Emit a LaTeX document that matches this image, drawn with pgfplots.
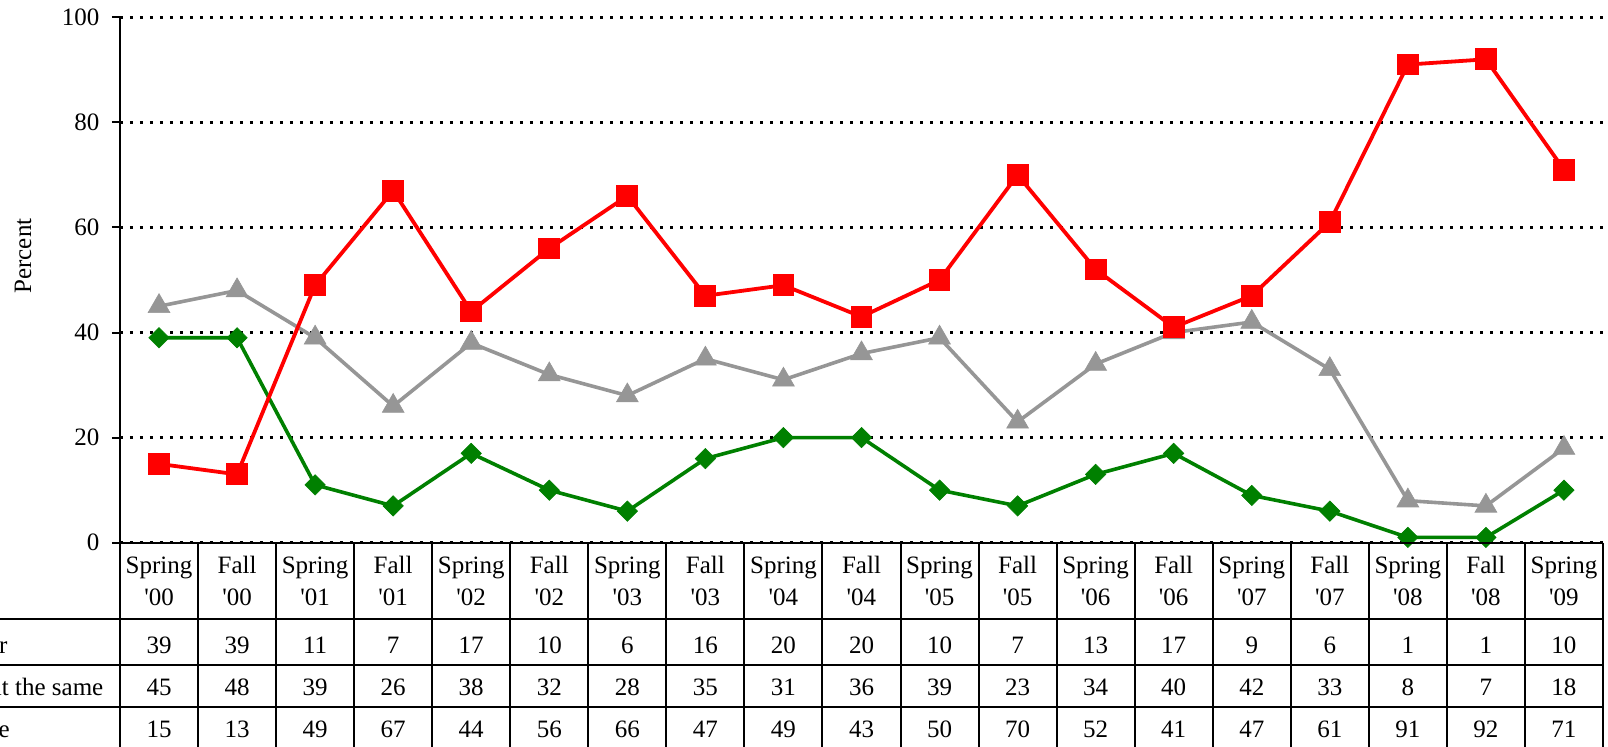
\documentclass[border=0pt]{standalone}
\usepackage{pgfplots}
\pgfplotsset{compat=1.18}
\usepackage{pgfplotstable}
\usepackage{fontspec}
\setmainfont{Liberation Serif}
\definecolor{cred}{RGB}{255,0,0}
\definecolor{cgray}{RGB}{150,150,150}
\definecolor{cgreen}{RGB}{0,128,0}
\pgfplotstableread{
x better same worse
0 39 45 15
1 39 48 13
2 11 39 49
3 7 26 67
4 17 38 44
5 10 32 56
6 6 28 66
7 16 35 47
8 20 31 49
9 20 36 43
10 10 39 50
11 7 23 70
12 13 34 52
13 17 40 41
14 9 42 47
15 6 33 61
16 1 8 91
17 1 7 92
18 10 18 71
}\data
\begin{document}
\fontsize{12.5}{16}\selectfont
\begin{tikzpicture}
\begin{axis}[
  at={(0,0)}, anchor=south west,
  scale only axis, width=741.5pt, height=262.7pt,
  xmin=-0.5, xmax=18.5, ymin=0, ymax=100,
  axis y line*=left, axis x line*=bottom,
  axis line style={black, line width=1pt},
  xtick=\empty,
  ytick={0,20,40,60,80,100},
  tick align=outside, major tick length=4pt,
  tick style={black, line width=1pt},
  ymajorgrids,
  grid style={black, line width=1.4pt, dash pattern=on 1.6pt off 3.4pt},
  /pgf/number format/assume math mode=true,
  ticklabel style={font=\fontsize{12.5}{15}\selectfont},
  yticklabel style={xshift=-2pt},
  clip=false,
  every node near coord/.style={anchor=center, font=\fontsize{12.5}{15}\selectfont, text=black},
]
\addplot[cgray, line width=1.8pt, mark=triangle*, mark size=6.3pt, mark options={solid, fill=cgray, draw=cgray, line width=0.3pt}] table[x=x, y=same] {\data};
\addplot[cgreen, line width=1.8pt, mark=square*, mark size=3.6pt, mark options={solid, fill=cgreen, draw=cgreen, rotate=45, line width=0.3pt}] table[x=x, y=better] {\data};
\addplot[cred, line width=1.9pt, mark=square*, mark size=5.2pt, mark options={solid, fill=cred, draw=cred, line width=0.5pt}] table[x=x, y=worse] {\data};
% data table numbers
\addplot[draw=none, mark=none, nodes near coords, point meta=explicit] table[x=x, y expr=-19.5, meta=better] {\data};
\addplot[draw=none, mark=none, nodes near coords, point meta=explicit] table[x=x, y expr=-27.5, meta=same] {\data};
\addplot[draw=none, mark=none, nodes near coords, point meta=explicit] table[x=x, y expr=-35.6, meta=worse] {\data};
\end{axis}
\begin{scope}[x=39.026pt, y=2.627pt, xshift=19.513pt]
  \foreach \k in {0,...,19} {
    \draw[black, line width=1pt] (\k-0.5,0) -- (\k-0.5,-42);
  }
  \draw[black, line width=1pt] (-0.5,0) -- (18.5,0);
  \foreach \yy in {-14.58,-23.28,-31.33} {
    \draw[black, line width=1pt] (-3.5,\yy) -- (18.5,\yy);
  }
  \draw[black, line width=1pt] (-3.5,-39.6) -- (18.5,-39.6);
  \foreach \i/\s/\n in {0/Spring/00,1/Fall/00,2/Spring/01,3/Fall/01,4/Spring/02,5/Fall/02,6/Spring/03,7/Fall/03,8/Spring/04,9/Fall/04,10/Spring/05,11/Fall/05,12/Spring/06,13/Fall/06,14/Spring/07,15/Fall/07,16/Spring/08,17/Fall/08,18/Spring/09} {
    \node[align=center, font=\fontsize{12.5}{16}\selectfont] at (\i,-7.29) {\s\\\textquotesingle\n};
  }
  \node[anchor=west, inner sep=0pt] at (-2.729,-19.5) {Better};
  \node[anchor=west, inner sep=0pt] at (-2.729,-27.5) {About the same};
  \node[anchor=west, inner sep=0pt] at (-2.729,-35.6) {Worse};
\end{scope}
\node[rotate=90] at (-48.5pt,143.35pt) {Percent};
\pgfresetboundingbox
\useasboundingbox (-60pt,-102.15pt) rectangle (744pt,271.35pt);
\end{tikzpicture}
\end{document}
